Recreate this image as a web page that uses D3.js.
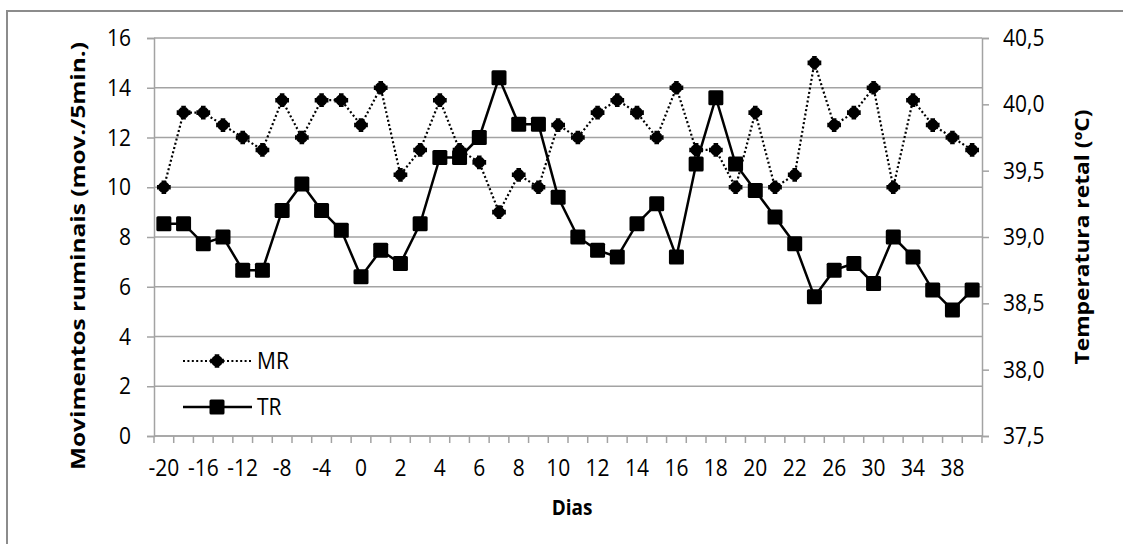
<!DOCTYPE html>
<html>
<head>
<meta charset="utf-8">
<script src="https://cdn.jsdelivr.net/npm/d3@7"></script>
<style>
  html, body { margin: 0; padding: 0; background: #fff; }
  svg { display: block; }
  text { font-family: "Open Sans", "Noto Sans", sans-serif; fill: #000; }
</style>
</head>
<body>
<svg id="chart" width="1123" height="544"></svg>
<script>
// Days of observation (category axis)
const dias = ["-20","-18","-16","-14","-12","-10","-8","-6","-4","-2",
  "0","1","2","3","4","5","6","7","8","9","10","11","12","13","14","15",
  "16","17","18","19","20","21","22","24","26","28","30","32","34","36","38","40"];

// Movimentos ruminais (mov./5min.)
const mr = [10, 13, 13, 12.5, 12, 11.5, 13.5, 12, 13.5, 13.5,
  12.5, 14, 10.5, 11.5, 13.5, 11.5, 11, 9, 10.5, 10, 12.5, 12, 13, 13.5, 13, 12,
  14, 11.5, 11.5, 10, 13, 10, 10.5, 15, 12.5, 13, 14, 10, 13.5, 12.5, 12, 11.5];

// Temperatura retal (ºC)
const tr = [39.1, 39.1, 38.95, 39.0, 38.75, 38.75, 39.2, 39.4, 39.2, 39.05,
  38.7, 38.9, 38.8, 39.1, 39.6, 39.6, 39.75, 40.2, 39.85, 39.85, 39.3, 39.0, 38.9, 38.85, 39.1, 39.25,
  38.85, 39.55, 40.05, 39.55, 39.35, 39.15, 38.95, 38.55, 38.75, 38.8, 38.65, 39.0, 38.85, 38.6, 38.45, 38.6];

const leftTicks = [0, 2, 4, 6, 8, 10, 12, 14, 16];
const rightTicks = [37.5, 38.0, 38.5, 39.0, 39.5, 40.0, 40.5];

const svg = d3.select("#chart");
const plot = { left: 154, right: 982, top: 38, bottom: 436 };
const gridColor = "#a3a3a3";
const tall = "scale(1,1.12)";   // slightly condensed lettering

// Outer chart frame
svg.append("rect")
  .attr("x", 7).attr("y", 11)
  .attr("width", 1140).attr("height", 560)
  .attr("fill", "none").attr("stroke", "#8c8c8c").attr("stroke-width", 2);

const x = d3.scaleBand().domain(dias).range([plot.left, plot.right]).paddingInner(0).paddingOuter(0);
const cx = d => x(d) + x.bandwidth() / 2;
const yL = d3.scaleLinear().domain([0, 16]).range([plot.bottom, plot.top]);
const yR = d3.scaleLinear().domain([37.5, 40.5]).range([plot.bottom, plot.top]);

// Horizontal gridlines
svg.append("g").selectAll("line").data(leftTicks).join("line")
  .attr("x1", plot.left).attr("x2", plot.right)
  .attr("y1", d => yL(d)).attr("y2", d => yL(d))
  .attr("stroke", gridColor).attr("stroke-width", 1.5);

// Left axis
const leftAxis = svg.append("g")
  .attr("transform", `translate(${plot.left},0)`)
  .call(d3.axisLeft(yL).tickValues(leftTicks).tickSize(7).tickPadding(16).tickFormat(d3.format("d")));
leftAxis.select(".domain").attr("stroke", gridColor).attr("stroke-width", 1.5);
leftAxis.selectAll(".tick line").attr("stroke", gridColor).attr("stroke-width", 1.5);
leftAxis.selectAll(".tick text").style("font-size", "21px").style("font-family", "Open Sans")
  .attr("transform", tall);

// Right axis
const fmtR = d => d.toFixed(1).replace(".", ",");
const rightAxis = svg.append("g")
  .attr("transform", `translate(${plot.right},0)`)
  .call(d3.axisRight(yR).tickValues(rightTicks).tickSize(7).tickPadding(14).tickFormat(fmtR));
rightAxis.select(".domain").attr("stroke", gridColor).attr("stroke-width", 1.5);
rightAxis.selectAll(".tick line").attr("stroke", gridColor).attr("stroke-width", 1.5);
rightAxis.selectAll(".tick text").style("font-size", "21px").style("font-family", "Open Sans")
  .attr("transform", tall);

// Bottom axis: line, boundary ticks, labels every other day
const bottom = svg.append("g");
bottom.append("line")
  .attr("x1", plot.left).attr("x2", plot.right)
  .attr("y1", plot.bottom).attr("y2", plot.bottom)
  .attr("stroke", gridColor).attr("stroke-width", 1.5);
const bounds = dias.map(d => x(d)).concat([x(dias[dias.length - 1]) + x.bandwidth()]);
bottom.selectAll("line.tk").data(bounds).join("line").attr("class", "tk")
  .attr("x1", d => d).attr("x2", d => d)
  .attr("y1", plot.bottom).attr("y2", plot.bottom + 7)
  .attr("stroke", gridColor).attr("stroke-width", 1.5);
bottom.selectAll("text").data(dias.filter((d, i) => i % 2 === 0)).join("text")
  .attr("transform", d => `translate(${cx(d)},468) ${tall}`)
  .attr("dy", "0.35em")
  .attr("text-anchor", "middle")
  .style("font-size", "21px")
  .text(d => d);

// MR series: dotted line with star-like markers
const lineMR = d3.line().x((d, i) => cx(dias[i])).y(d => yL(d));
svg.append("path").datum(mr)
  .attr("d", lineMR)
  .attr("fill", "none").attr("stroke", "#000")
  .attr("stroke-width", 2.2).attr("stroke-dasharray", "2,2.4");

const mrMarker = (g) => {
  g.append("path").attr("d", d3.symbol(d3.symbolCross, 105)()).attr("fill", "#000");
  g.append("path").attr("d", d3.symbol(d3.symbolCross, 70)()).attr("transform", "rotate(45)").attr("fill", "#000");
  g.append("circle").attr("r", 5).attr("fill", "#000");
};
svg.append("g").selectAll("g").data(mr).join("g")
  .attr("transform", (d, i) => `translate(${cx(dias[i])},${yL(d)})`)
  .each(function () { mrMarker(d3.select(this)); });

// TR series: solid line with square markers
const lineTR = d3.line().x((d, i) => cx(dias[i])).y(d => yR(d));
svg.append("path").datum(tr)
  .attr("d", lineTR)
  .attr("fill", "none").attr("stroke", "#000").attr("stroke-width", 2.5);
svg.append("g").selectAll("rect").data(tr).join("rect")
  .attr("x", (d, i) => cx(dias[i]) - 7.5).attr("y", d => yR(d) - 7.5)
  .attr("width", 15).attr("height", 15).attr("rx", 1.5)
  .attr("fill", "#000");

// Legend
const legend = svg.append("g");
legend.append("line").attr("x1", 183).attr("x2", 252).attr("y1", 361).attr("y2", 361)
  .attr("stroke", "#000").attr("stroke-width", 2.2).attr("stroke-dasharray", "2,2.4");
mrMarker(legend.append("g").attr("transform", "translate(217,361)"));
legend.append("text").attr("transform", `translate(257,361) ${tall}`).attr("dy", "0.35em")
  .style("font-size", "21px").text("MR");

legend.append("line").attr("x1", 183).attr("x2", 252).attr("y1", 407).attr("y2", 407)
  .attr("stroke", "#000").attr("stroke-width", 2.5);
legend.append("rect").attr("x", 209.5).attr("y", 399.5).attr("width", 15).attr("height", 15)
  .attr("rx", 1.5).attr("fill", "#000");
legend.append("text").attr("transform", `translate(257,407) ${tall}`).attr("dy", "0.35em")
  .style("font-size", "21px").text("TR");

// Axis titles
svg.append("text")
  .attr("transform", "translate(85,256) rotate(-90)")
  .attr("text-anchor", "middle")
  .attr("textLength", 428).attr("lengthAdjust", "spacingAndGlyphs")
  .style("font-size", "20px").style("font-weight", "bold")
  .text("Movimentos ruminais (mov./5min.)");
svg.append("text")
  .attr("transform", `translate(1089,${(plot.top + plot.bottom) / 2}) rotate(-90)`)
  .attr("text-anchor", "middle")
  .attr("textLength", 255).attr("lengthAdjust", "spacingAndGlyphs")
  .style("font-size", "20px").style("font-weight", "bold")
  .text("Temperatura retal (ºC)");
svg.append("text")
  .attr("transform", `translate(${(plot.left + plot.right) / 2 + 4},508) ${tall}`)
  .attr("dy", "0.35em")
  .attr("text-anchor", "middle")
  .style("font-size", "19px").style("font-weight", "bold")
  .text("Dias");
</script>
</body>
</html>
